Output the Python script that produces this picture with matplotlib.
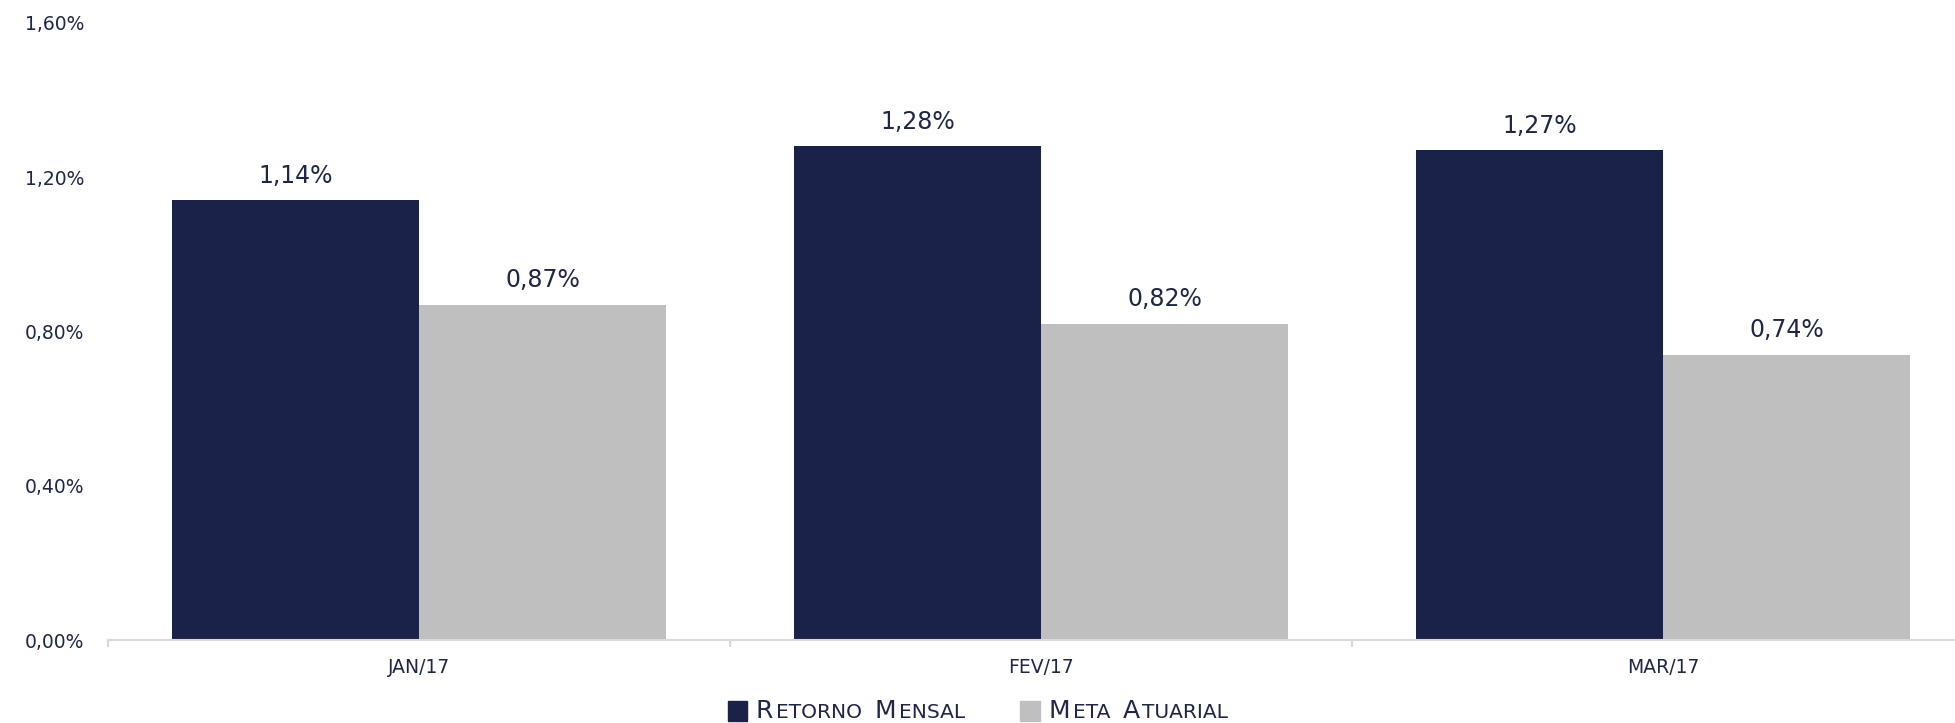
import numpy as np
import matplotlib
matplotlib.use("Agg")
import matplotlib.pyplot as plt
from matplotlib.ticker import FixedLocator, FuncFormatter
from matplotlib.offsetbox import (AnchoredOffsetbox, DrawingArea, HPacker, TextArea)
from matplotlib.patches import Rectangle

# data
months = ["JAN/17", "FEV/17", "MAR/17"]
retorno = [1.14, 1.28, 1.27]
meta = [0.87, 0.82, 0.74]
series_names = [("R", "ETORNO", "M", "ENSAL"), ("M", "ETA", "A", "TUARIAL")]
yticks = [0.0, 0.4, 0.8, 1.2, 1.6]

NAVY = "#1b2249"
GRAY = "#bfbfbf"
TXT = "#1f2747"
AXC = "#d9d9d9"

plt.rcParams["font.family"] = ["DejaVu Sans"]

fig = plt.figure(figsize=(19.56, 7.23), dpi=100)
ax = fig.add_axes([108 / 1956, 83 / 723, 1 - 108 / 1956, (640 - 23) / 723])

x = np.arange(len(months))
w = 0.397
b1 = ax.bar(x - w / 2, retorno, w, color=NAVY)
b2 = ax.bar(x + w / 2, meta, w, color=GRAY)

for bars, vals in ((b1, retorno), (b2, meta)):
    for r, v in zip(bars, vals):
        ax.annotate(f"{v:.2f}%".replace(".", ","), (r.get_x() + r.get_width() / 2, v),
                    xytext=(0, 9), textcoords="offset points", ha="center", va="bottom",
                    fontsize=17, color=TXT)

ax.set_xlim(-0.5, -0.5 + 1848 / 622)
ax.set_ylim(0, 1.6)

for s in ("top", "right", "left"):
    ax.spines[s].set_visible(False)
ax.spines["bottom"].set_color(AXC)
ax.spines["bottom"].set_linewidth(1.5)

ax.set_xticks(x)
ax.set_xticklabels(months)
ax.xaxis.set_minor_locator(FixedLocator([-0.5, 0.5, 1.5, 2.5]))
ax.tick_params(axis="x", which="major", length=0, pad=13, labelsize=13.5, labelcolor=TXT)
ax.tick_params(axis="x", which="minor", length=5, width=1.5, color=AXC)

ax.set_yticks(yticks)
ax.yaxis.set_major_formatter(FuncFormatter(lambda v, p: f"{v:.2f}%".replace(".", ",")))
ax.tick_params(axis="y", length=0, pad=17, labelsize=13.5, labelcolor=TXT)

# legend with small-caps look
items = []
for color, parts in zip((NAVY, GRAY), series_names):
    da = DrawingArea(14, 14, 0, 0)
    da.add_artist(Rectangle((0, 0), 14, 14, color=color))
    pieces = []
    for i, ptxt in enumerate(parts):
        big = i % 2 == 0
        pieces.append(TextArea(ptxt, textprops=dict(fontsize=18 if big else 14.5, color=TXT)))
    word1 = HPacker(children=pieces[:2], align="baseline", pad=0, sep=2)
    word2 = HPacker(children=pieces[2:], align="baseline", pad=0, sep=2)
    label = HPacker(children=[word1, word2], align="baseline", pad=0, sep=9)
    items.append(HPacker(children=[da, label], align="center", pad=0, sep=6))
box = HPacker(children=items, align="center", pad=0, sep=40)
anch = AnchoredOffsetbox(loc="center", child=box, frameon=False, pad=0, borderpad=0,
                         bbox_to_anchor=(0.5, 1 - 711 / 723), bbox_transform=fig.transFigure)
fig.add_artist(anch)

fig.savefig("out.png", dpi=100)
